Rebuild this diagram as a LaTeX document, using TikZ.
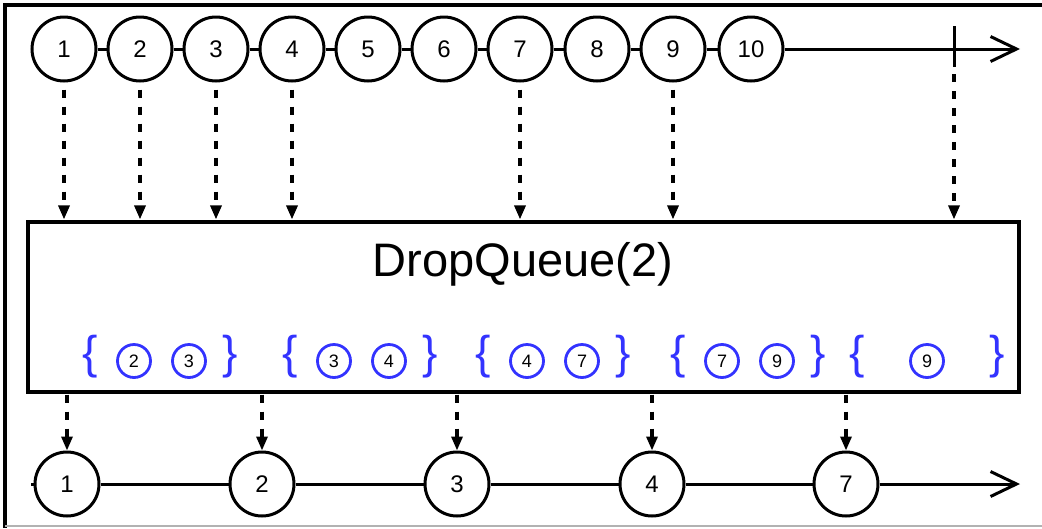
\documentclass[tikz,border=0pt]{standalone}
\usepackage{fontspec}
\setmainfont{Liberation Sans}
\usetikzlibrary{arrows.meta}
\definecolor{qblue}{RGB}{51,51,255}
\tikzstyle{marble}=[draw,circle,fill=white,line width=3pt,minimum size=64pt,inner sep=0pt,font=\fontsize{24}{26}\selectfont]
\tikzstyle{chip}=[draw=qblue,circle,line width=2.8pt,minimum size=33pt,inner sep=0pt,font=\fontsize{18}{20}\selectfont]
\tikzstyle{brace}=[text=qblue,inner sep=0pt,font=\fontsize{46}{50}\selectfont]
\tikzstyle{feed}=[dash pattern=on 8pt off 9pt,line width=3.2pt,-{Triangle[length=14pt,width=11pt]}]
\tikzstyle{timeline}=[-{Straight Barb[length=26pt,width=25pt]}]

\begin{document}
\begin{tikzpicture}[x=1pt,y=-1pt,line width=3pt]
\useasboundingbox (0,0) rectangle (1042,528);
% frame
\draw[line width=3.2pt] (1042,5) -- (5,5) -- (5,528);
\draw[black!30,line width=1.6pt] (5,526) -- (1042,526);

% source
  \foreach \place/\name in {{(64,49)/1},
                            {(140,49)/2},
                            {(216,49)/3},
                            {(292,49)/4},
                            {(368,49)/5},
                            {(444,49)/6},
                            {(520,49)/7},
                            {(597,49)/8},
                            {(673,49)/9},
                            {(751,49)/10}}
    \node[marble] (t\name) at \place {\name};
  \coordinate (tend) at (1020,49);
  \coordinate (ticktop) at (954,26);
  \coordinate (tickbot) at (954,67);
  \foreach \source/\dest in {t1/t2,t2/t3,t3/t4,t4/t5,t5/t6,t6/t7,t7/t8,t8/t9,t9/t10}
      \path (\source) edge (\dest);
  \draw[timeline] (t10) -- (tend);
  \draw (ticktop) -- (tickbot);

% operator
  \node[draw,line width=3.2pt,minimum width=991pt,minimum height=170pt,inner sep=0pt] (queue) at (523.5,307) {};
  \node[font=\fontsize{47}{50}\selectfont] (title) at (523,264) {DropQueue(2)};
  \foreach \x/\a/\b [count=\i] in {90/2/3,290/3/4,483/4/7,678/7/9}{
    \node[brace] (lb\i) at (\x,357) {\{};
    \node[chip] (ca\i) at (\x+44,361) {\a};
    \node[chip] (cb\i) at (\x+99,361) {\b};
    \node[brace] (rb\i) at (\x+140,357) {\}};
  }
  \node[brace] (lb5) at (857,357) {\{};
  \node[chip] (cb5) at (927,361) {9};
  \node[brace] (rb5) at (997,357) {\}};
  \foreach \name in {t1,t2,t3,t4,t7,t9,tickbot}
      \draw[feed,shorten <=7pt,shorten >=1pt] (\name) -- (\name |- queue.north);

% result
  \foreach \place/\name/\lbl in {{(67,484)/b1/1},
                                 {(262,484)/b2/2},
                                 {(457,484)/b3/3},
                                 {(652,484)/b4/4},
                                 {(846,484)/b5/7}}
    \node[marble] (\name) at \place {\lbl};
  \coordinate (bstart) at (31,484);
  \coordinate (bend) at (1020,484);
  \foreach \source/\dest in {bstart/b1,b1/b2,b2/b3,b3/b4,b4/b5}
      \path (\source) edge (\dest);
  \draw[timeline] (b5) -- (bend);
  \foreach \name in {b1,b2,b3,b4,b5}
      \draw[feed,shorten <=1pt] (\name |- queue.south) -- (\name);
\end{tikzpicture}
\end{document}
